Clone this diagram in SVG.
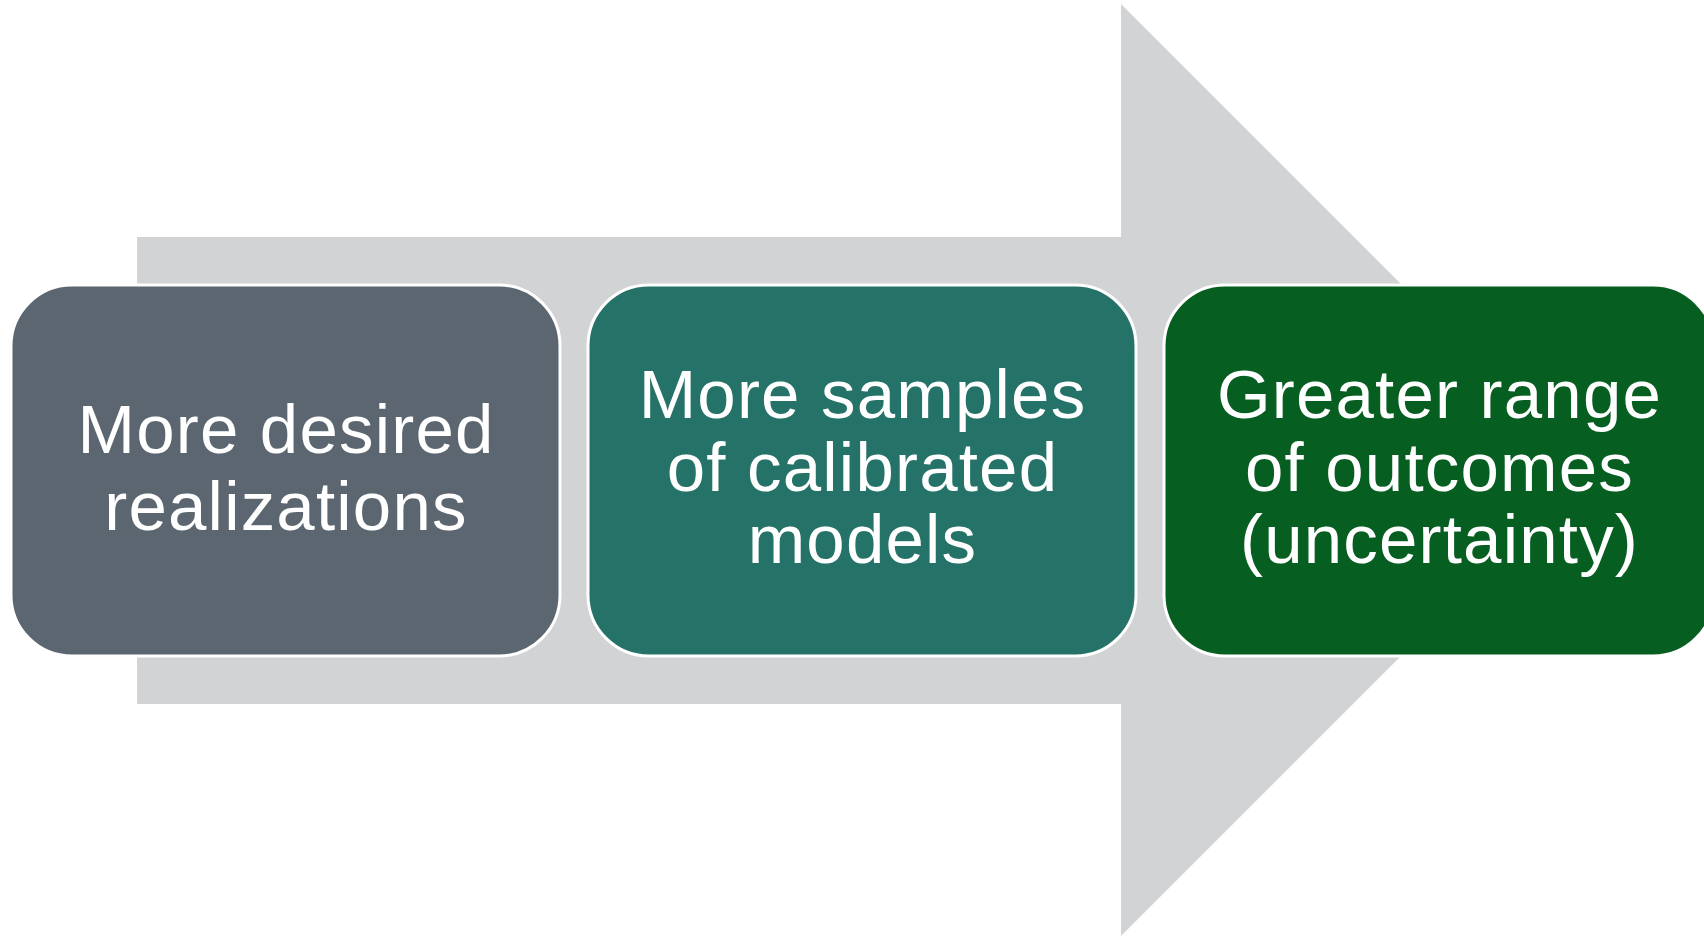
<svg xmlns="http://www.w3.org/2000/svg" width="1704" height="937" viewBox="0 0 1704 937">
  <style>
    .box { stroke: #ffffff; stroke-width: 3; }
    .label { font-family: "Liberation Sans", Arial, sans-serif; font-size: 69px; fill: #ffffff; text-anchor: middle; letter-spacing: 1.2px; }
  </style>
  <rect width="1704" height="937" fill="#ffffff"/>
  <!-- background block arrow -->
  <g id="connectors">
    <polygon points="137,237 1121,237 1121,4 1587,470 1121,936 1121,704 137,704" fill="#D2D3D5"/>
  </g>
  <g id="node1">
    <rect class="box" x="11" y="285" width="549" height="371" rx="61" ry="61" fill="#5B6670"/>
    <text class="label" x="286" y="453">More desired</text>
    <text class="label" x="286" y="530">realizations</text>
  </g>
  <g id="node2">
    <rect class="box" x="588" y="285" width="548" height="371" rx="61" ry="61" fill="#247268"/>
    <text class="label" x="862.5" y="418">More samples</text>
    <text class="label" x="862.5" y="491">of calibrated</text>
    <text class="label" x="862.5" y="563">models</text>
  </g>
  <g id="node3">
    <rect class="box" x="1164" y="285" width="550" height="371" rx="61" ry="61" fill="#065E20"/>
    <text class="label" x="1439.5" y="418">Greater range</text>
    <text class="label" x="1439.5" y="491">of outcomes</text>
    <text class="label" x="1439.5" y="563">(uncertainty)</text>
  </g>
</svg>
